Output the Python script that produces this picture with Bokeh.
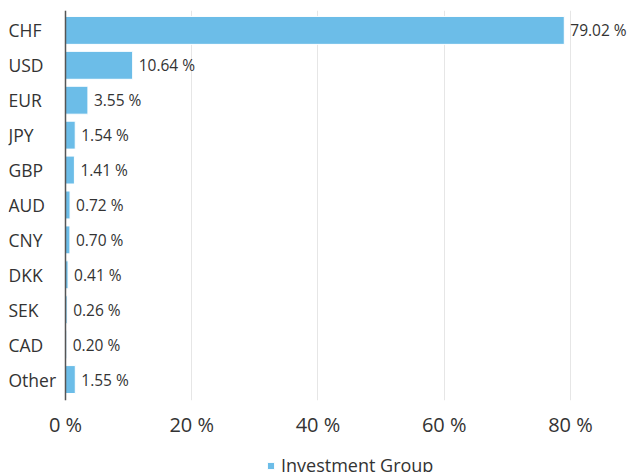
from bokeh.plotting import figure
from bokeh.layouts import column
from bokeh.models import ColumnDataSource, Range1d, FixedTicker, PrintfTickFormatter, Span, Legend, LegendItem
from bokeh.core.properties import value
from bokeh.embed import file_html
from bokeh.resources import INLINE

categories = ["CHF", "USD", "EUR", "JPY", "GBP", "AUD", "CNY", "DKK", "SEK", "CAD", "Other"]
shares = [79.02, 10.64, 3.55, 1.54, 1.41, 0.72, 0.70, 0.41, 0.26, 0.20, 1.55]
x_ticks = [0, 20, 40, 60, 80]
series_name = "Investment Group"

FONT = "Open Sans"
TEXT = "#333333"
BAR = "#6cbde8"
X_START, X_END = -9.03, 89.35

pos = list(range(len(categories)))
src = ColumnDataSource(dict(
    y=pos,
    cat=categories,
    share=shares,
    label=[f"{v:.2f} %" for v in shares],
    left=[X_START] * len(categories),
))

p = figure(frame_width=621, frame_height=390, output_backend="svg", toolbar_location=None,
           x_range=Range1d(X_START, X_END), y_range=Range1d(10.6, -0.57),
           min_border_left=8, min_border_right=0, min_border_top=10, min_border_bottom=0)
p.outline_line_color = None
p.yaxis.visible = False
p.ygrid.visible = False
p.xgrid.ticker = FixedTicker(ticks=x_ticks)
p.xgrid.grid_line_color = "#e6e6e6"

p.xaxis.ticker = FixedTicker(ticks=x_ticks)
p.xaxis.formatter = PrintfTickFormatter(format="%d %%")
p.xaxis.axis_line_color = None
p.xaxis.major_tick_line_color = None
p.xaxis.minor_tick_line_color = None
p.xaxis.major_label_text_font = FONT
p.xaxis.major_label_text_font_size = "20px"
p.xaxis.major_label_text_color = TEXT
p.xaxis.major_label_standoff = 4

bars = p.hbar(y="y", left=0, right="share", height=0.8, fill_color=BAR,
              line_color="white", line_width=1, source=src)

p.add_layout(Span(location=0, dimension="height", line_color="#555555", line_width=1.5))

p.text(x="left", y="y", text="cat", text_font=value(FONT), text_font_size="17.5px",
       text_color=TEXT, text_baseline="middle", text_align="left", source=src)
p.text(x="share", y="y", text="label", x_offset=6, text_font=value(FONT), text_font_size="15.5px",
       text_color=TEXT, text_baseline="middle", text_align="left", source=src)

# separate strip holding the series legend
p2 = figure(frame_width=621, frame_height=37, output_backend="svg", toolbar_location=None,
            x_range=Range1d(0, 1), y_range=Range1d(0, 1),
            min_border_left=8, min_border_right=0, min_border_top=0, min_border_bottom=0)
p2.outline_line_color = None
p2.axis.visible = False
p2.grid.visible = False
key = p2.hbar(y=[0.5], left=[0], right=[0], height=0.1, fill_color=BAR,
              line_color="white", line_width=1)
legend = Legend(items=[LegendItem(label=series_name, renderers=[key])],
                location=(258, 0), orientation="horizontal",
                glyph_width=9, glyph_height=9, label_standoff=6,
                label_text_font=FONT, label_text_font_size="18px", label_text_color=TEXT,
                border_line_color=None, background_fill_alpha=0, padding=2, margin=0)
p2.add_layout(legend, "center")

layout = column(p, p2, spacing=0)
open("out.html", "w").write(file_html(layout, INLINE))
